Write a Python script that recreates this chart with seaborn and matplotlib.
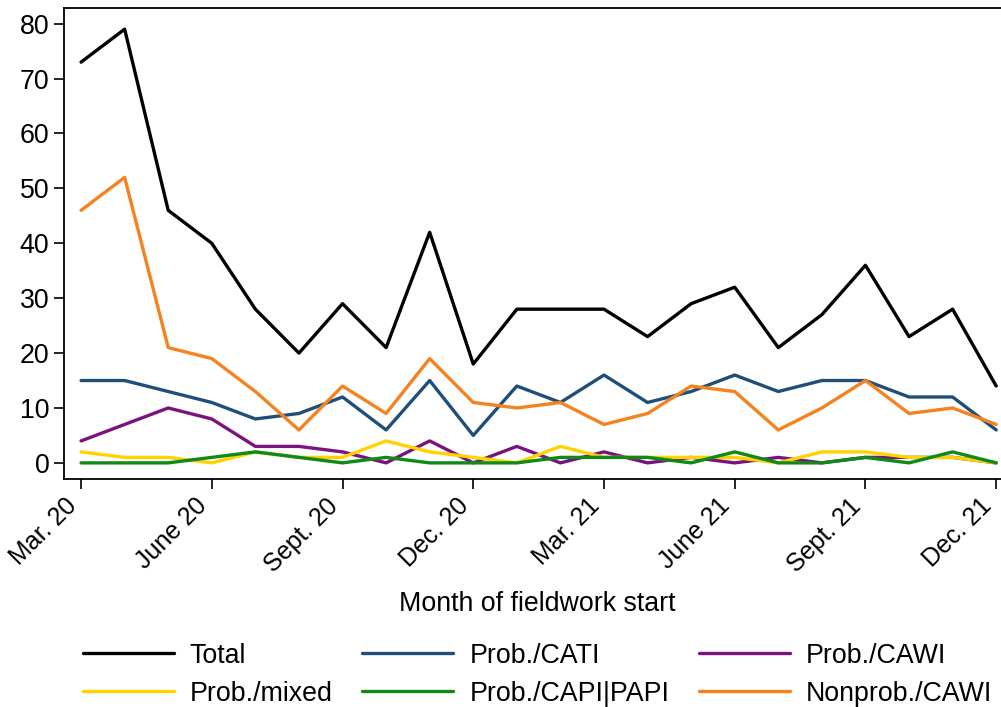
import matplotlib
matplotlib.use("Agg")
import matplotlib.pyplot as plt
import numpy as np
import pandas as pd
import seaborn as sns

# Months of fieldwork start, March 2020 through December 2021
months = pd.period_range("2020-03", "2021-12", freq="M")
tick_labels = ["Mar. 20", "June 20", "Sept. 20", "Dec. 20",
               "Mar. 21", "June 21", "Sept. 21", "Dec. 21"]

total         = [73, 79, 46, 40, 28, 20, 29, 21, 42, 18, 28, 28, 28, 23, 29, 32, 21, 27, 36, 23, 28, 14]
prob_cati     = [15, 15, 13, 11, 8, 9, 12, 6, 15, 5, 14, 11, 16, 11, 13, 16, 13, 15, 15, 12, 12, 6]
prob_cawi     = [4, 7, 10, 8, 3, 3, 2, 0, 4, 0, 3, 0, 2, 0, 1, 0, 1, 0, 1, 1, 1, 0]
prob_mixed    = [2, 1, 1, 0, 2, 1, 1, 4, 2, 1, 0, 3, 1, 1, 1, 1, 0, 2, 2, 1, 1, 0]
prob_capipapi = [0, 0, 0, 1, 2, 1, 0, 1, 0, 0, 0, 1, 1, 1, 0, 2, 0, 0, 1, 0, 2, 0]
nonprob_cawi  = [46, 52, 21, 19, 13, 6, 14, 9, 19, 11, 10, 11, 7, 9, 14, 13, 6, 10, 15, 9, 10, 7]

series_names = ["Total", "Prob./CATI", "Prob./CAWI",
                "Prob./mixed", "Prob./CAPI|PAPI", "Nonprob./CAWI"]
series_values = [total, prob_cati, prob_cawi, prob_mixed, prob_capipapi, nonprob_cawi]
series_colors = ["#000000", "#1f4e79", "#7b137e", "#ffd200", "#0e8a16", "#f5821f"]

month_index = np.arange(len(months))
df = pd.concat(
    [pd.DataFrame({"month": month_index, "count": vals, "series": name})
     for name, vals in zip(series_names, series_values)],
    ignore_index=True,
)

sns.set_theme(style="ticks")
plt.rcParams["font.family"] = ["Liberation Sans", "DejaVu Sans"]
plt.rcParams["text.color"] = "black"
plt.rcParams["xtick.color"] = "black"
plt.rcParams["ytick.color"] = "black"
plt.rcParams["axes.labelcolor"] = "black"

FS = 19.3

fig = plt.figure(figsize=(10.01, 7.07), dpi=100)
# the plot region runs past the right edge of the canvas
ax = fig.add_axes([0.064, 0.322, 0.946, 0.667])

sns.lineplot(data=df, x="month", y="count", hue="series",
             hue_order=series_names, palette=series_colors,
             linewidth=2.4, ax=ax, legend=True)

ax.set_xlim(-0.39, 21.34)
ax.set_ylim(-3.0, 82.9)
ax.set_yticks(np.arange(0, 81, 10))
ax.set_xticks(month_index[::3])
ax.set_xticklabels(tick_labels, rotation=45, ha="right")
ax.tick_params(axis="both", length=7.5, width=1.2,
               color="black", labelcolor="black", pad=3)
ax.tick_params(axis="y", labelsize=FS)
ax.tick_params(axis="x", labelsize=18)
for side in ["top", "right", "bottom", "left"]:
    ax.spines[side].set_visible(True)
    ax.spines[side].set_color("black")
    ax.spines[side].set_linewidth(1.3)

ax.set_xlabel("Month of fieldwork start", fontsize=FS, labelpad=10)
ax.set_ylabel("")

handles, labels = ax.get_legend_handles_labels()
lookup = dict(zip(labels, handles))
order = ["Total", "Prob./mixed", "Prob./CATI", "Prob./CAPI|PAPI",
         "Prob./CAWI", "Nonprob./CAWI"]
ax.legend([lookup[k] for k in order], order, ncol=3, frameon=False,
          fontsize=FS, handlelength=3.4, handletextpad=0.6,
          columnspacing=1.1, labelspacing=0.45,
          loc="upper center", bbox_to_anchor=(0.5, -0.295))

fig.savefig("out.png", dpi=100, facecolor="white")
